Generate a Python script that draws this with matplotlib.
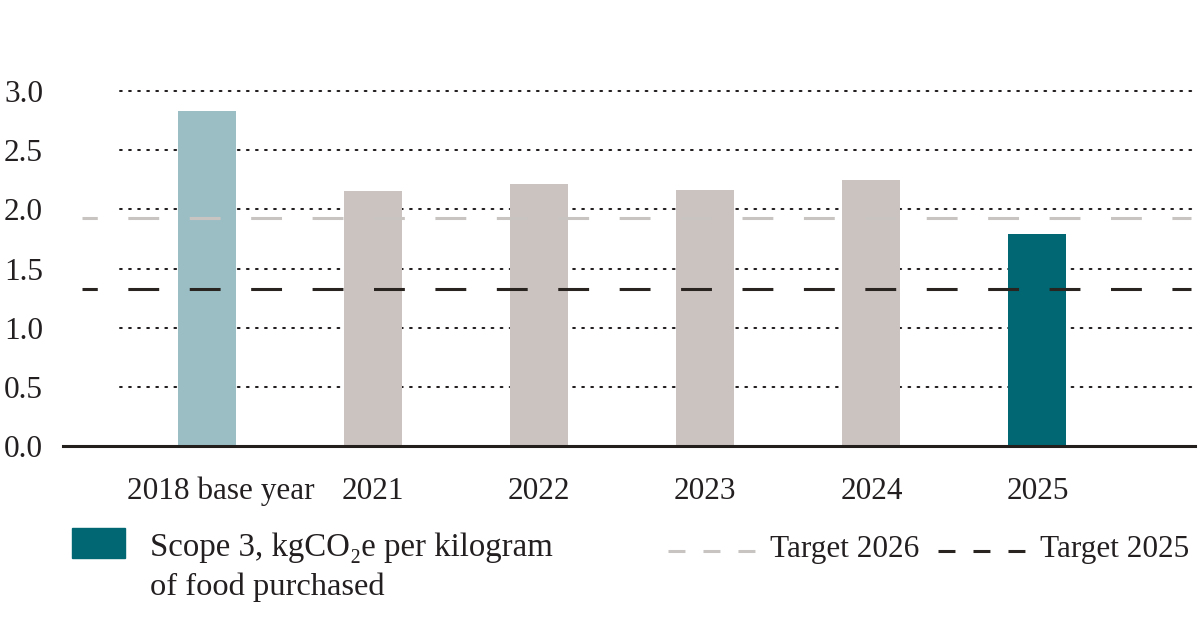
import matplotlib
matplotlib.use("Agg")
import matplotlib.pyplot as plt
import matplotlib.transforms as mtransforms
from matplotlib.patches import Rectangle
from matplotlib.lines import Line2D

plt.rcParams['font.family'] = ['Liberation Serif', 'DejaVu Serif']

categories = ["2018 base year", "2021", "2022", "2023", "2024", "2025"]
values = [2.83, 2.155, 2.215, 2.165, 2.25, 1.79]
bar_colors = ["#9bbec5", "#cbc3c0", "#cbc3c0", "#cbc3c0", "#cbc3c0", "#006773"]
target_2026 = 1.93
target_2025 = 1.33
yticks = [0.0, 0.5, 1.0, 1.5, 2.0, 2.5, 3.0]
ytick_labels = ["0.0", "0.5", "1.0", "1.5", "2.0", "2.5", "3.0"]

TXT = "#231f20"
FS = 22.5
W, H = 1200, 618
fig = plt.figure(figsize=(W / 100, H / 100), dpi=100)

# axes geometry in pixels
left_px, right_px = 63, 1195
bottom_px = 446
ymax = 3.1
px_per_unit = (446 - 91) / 3.0
top_px = bottom_px - ymax * px_per_unit
ax = fig.add_axes([left_px / W, (H - bottom_px) / H,
                   (right_px - left_px) / W, (bottom_px - top_px) / H])

x = list(range(len(categories)))
spacing = 166.1
xmin = (left_px - 207) / spacing
xmax = (right_px - 207) / spacing
ax.set_xlim(xmin, xmax)
ax.set_ylim(0, ymax)

# dotted gridlines
g0 = (120 - 207) / spacing
for yv in yticks[1:]:
    ax.plot([g0, xmax - 0.01], [yv, yv], color="#231f20", lw=1.45,
            linestyle=(0, (0.9, 3.6)), dash_capstyle="round", zorder=1)

ax.bar(x, values, width=58 / spacing, color=bar_colors, zorder=2)

# target lines
t0 = (82 - 207) / spacing
t1 = (1191 - 207) / spacing
LW = 2.2
ax.plot([t0, t1], [target_2026, target_2026], color="#c8c4c2", lw=LW,
        linestyle=(5.1, (10.1, 10.0)), dash_capstyle="butt", zorder=3)
ax.plot([t0, t1], [target_2025, target_2025], color="#2a2420", lw=LW,
        linestyle=(5.1, (10.1, 10.0)), dash_capstyle="butt", zorder=3)

for s in ["left", "right", "top"]:
    ax.spines[s].set_visible(False)
ax.spines["bottom"].set_color("#231f1c")
ax.spines["bottom"].set_linewidth(2.2)
ax.spines["bottom"].set_zorder(4)

ax.set_yticks(yticks)
ax.set_yticklabels(ytick_labels)
ax.set_xticks(x)
ax.set_xticklabels(categories)
ax.tick_params(axis="both", length=0, labelsize=FS, colors=TXT)
ax.tick_params(axis="y", pad=14.4)
ax.tick_params(axis="x", pad=22)
for lab in ax.get_yticklabels():
    lab.set_horizontalalignment("right")
# shift first x label slightly right
xl = ax.get_xticklabels()
xl[0].set_transform(xl[0].get_transform() +
                    mtransforms.ScaledTranslation(14 / 100, 0, fig.dpi_scale_trans))

# legend: teal square and description
fig.patches.append(Rectangle((72 / W, (H - 558) / H), 53 / W, 30 / H,
                             transform=fig.transFigure, color="#006773"))
fig.text(150 / W, (H - 548) / H, "Scope 3, kgCO\u2082e per kilogram",
         fontsize=FS * 1.05, color=TXT, va="center", ha="left")
fig.text(150 / W, (H - 587) / H, "of food purchased",
         fontsize=FS * 1.04, color=TXT, va="center", ha="left")

# legend: target lines
ly = (H - 551) / H
fig.add_artist(Line2D([668 / W, 755 / W], [ly, ly], transform=fig.transFigure,
                      color="#c8c4c2", lw=LW, linestyle=(0, (5.55, 5.9))))
fig.text(770 / W, (H - 549) / H, "Target 2026", fontsize=FS, color=TXT,
         va="center", ha="left")
fig.add_artist(Line2D([938 / W, 1025 / W], [ly, ly], transform=fig.transFigure,
                      color="#2a2420", lw=LW, linestyle=(0, (5.55, 5.9))))
fig.text(1040 / W, (H - 549) / H, "Target 2025", fontsize=FS, color=TXT,
         va="center", ha="left")

fig.savefig("out.png", dpi=100)
